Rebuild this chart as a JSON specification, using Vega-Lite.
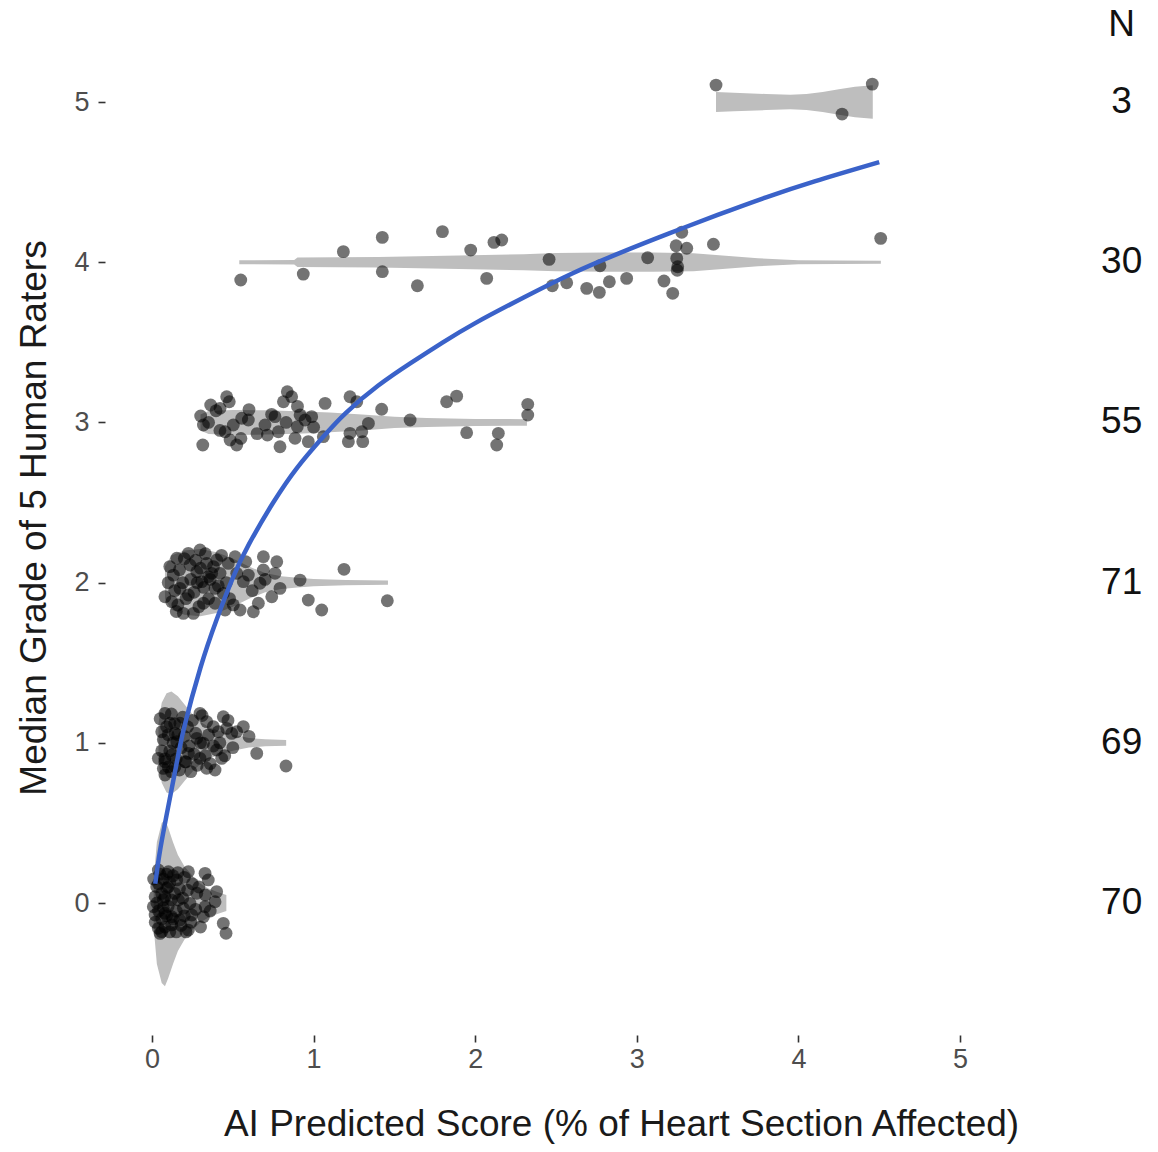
{
  "$schema": "https://vega.github.io/schema/vega-lite/v6.json",
  "width": 1053,
  "height": 1035,
  "autosize": {"type": "none"},
  "padding": {"left": 105, "top": 0, "right": 0, "bottom": 117},
  "background": "white",
  "config": {
    "view": {"stroke": null},
    "font": "Liberation Sans",
    "axis": {
      "domain": false,
      "grid": false,
      "labelFont": "Liberation Sans",
      "labelFontSize": 27,
      "labelColor": "#4d4d4d",
      "tickColor": "#333333",
      "tickSize": 7,
      "tickWidth": 1.6,
      "titleFont": "Liberation Sans",
      "titleFontSize": 37,
      "titleFontWeight": "normal",
      "titleColor": "#1a1a1a"
    },
    "axisX": {"labelPadding": 4, "titlePadding": 34, "titleX": 516},
    "axisY": {"labelPadding": 9, "titlePadding": 20}
  },
  "datasets": {
    "violins": [
      {"g":0,"x":0.01,"lo":-0.15,"hi":0.15},{"g":0,"x":0.03,"lo":-0.38,"hi":0.38},{"g":0,"x":0.06,"lo":-0.5,"hi":0.5},{"g":0,"x":0.08,"lo":-0.52,"hi":0.52},{"g":0,"x":0.1,"lo":-0.47,"hi":0.47},{"g":0,"x":0.13,"lo":-0.38,"hi":0.38},{"g":0,"x":0.16,"lo":-0.3,"hi":0.3},{"g":0,"x":0.2,"lo":-0.23,"hi":0.23},{"g":0,"x":0.25,"lo":-0.17,"hi":0.17},{"g":0,"x":0.3,"lo":-0.12,"hi":0.12},{"g":0,"x":0.35,"lo":-0.09,"hi":0.09},{"g":0,"x":0.4,"lo":-0.07,"hi":0.07},{"g":0,"x":0.46,"lo":-0.05,"hi":0.05},
      {"g":1,"x":0.04,"lo":0.88,"hi":1.12},{"g":1,"x":0.06,"lo":0.75,"hi":1.25},{"g":1,"x":0.09,"lo":0.69,"hi":1.31},{"g":1,"x":0.12,"lo":0.68,"hi":1.32},{"g":1,"x":0.16,"lo":0.71,"hi":1.29},{"g":1,"x":0.2,"lo":0.76,"hi":1.24},{"g":1,"x":0.25,"lo":0.82,"hi":1.18},{"g":1,"x":0.3,"lo":0.87,"hi":1.13},{"g":1,"x":0.35,"lo":0.9,"hi":1.1},{"g":1,"x":0.4,"lo":0.92,"hi":1.08},{"g":1,"x":0.5,"lo":0.95,"hi":1.05},{"g":1,"x":0.6,"lo":0.97,"hi":1.03},{"g":1,"x":0.7,"lo":0.978,"hi":1.022},{"g":1,"x":0.83,"lo":0.982,"hi":1.018},
      {"g":2,"x":0.08,"lo":1.9,"hi":2.1},{"g":2,"x":0.12,"lo":1.83,"hi":2.17},{"g":2,"x":0.2,"lo":1.8,"hi":2.2},{"g":2,"x":0.3,"lo":1.79,"hi":2.21},{"g":2,"x":0.4,"lo":1.81,"hi":2.19},{"g":2,"x":0.5,"lo":1.85,"hi":2.15},{"g":2,"x":0.6,"lo":1.9,"hi":2.1},{"g":2,"x":0.7,"lo":1.94,"hi":2.06},{"g":2,"x":0.8,"lo":1.96,"hi":2.04},{"g":2,"x":0.9,"lo":1.97,"hi":2.03},{"g":2,"x":1.0,"lo":1.978,"hi":2.022},{"g":2,"x":1.2,"lo":1.984,"hi":2.016},{"g":2,"x":1.46,"lo":1.986,"hi":2.014},
      {"g":3,"x":0.3,"lo":2.95,"hi":3.05},{"g":3,"x":0.35,"lo":2.928,"hi":3.072},{"g":3,"x":0.5,"lo":2.922,"hi":3.078},{"g":3,"x":0.7,"lo":2.924,"hi":3.076},{"g":3,"x":0.9,"lo":2.93,"hi":3.07},{"g":3,"x":1.1,"lo":2.938,"hi":3.062},{"g":3,"x":1.3,"lo":2.95,"hi":3.05},{"g":3,"x":1.5,"lo":2.965,"hi":3.035},{"g":3,"x":1.7,"lo":2.972,"hi":3.028},{"g":3,"x":2.0,"lo":2.978,"hi":3.022},{"g":3,"x":2.32,"lo":2.98,"hi":3.02},
      {"g":4,"x":0.54,"lo":3.988,"hi":4.012},{"g":4,"x":0.88,"lo":3.986,"hi":4.014},{"g":4,"x":0.9,"lo":3.97,"hi":4.03},{"g":4,"x":1.4,"lo":3.967,"hi":4.033},{"g":4,"x":1.9,"lo":3.958,"hi":4.042},{"g":4,"x":2.3,"lo":3.95,"hi":4.05},{"g":4,"x":2.5,"lo":3.943,"hi":4.057},{"g":4,"x":2.8,"lo":3.94,"hi":4.06},{"g":4,"x":3.1,"lo":3.94,"hi":4.06},{"g":4,"x":3.35,"lo":3.944,"hi":4.056},{"g":4,"x":3.55,"lo":3.96,"hi":4.04},{"g":4,"x":3.75,"lo":3.975,"hi":4.025},{"g":4,"x":4.0,"lo":3.987,"hi":4.013},{"g":4,"x":4.25,"lo":3.989,"hi":4.011},{"g":4,"x":4.51,"lo":3.99,"hi":4.01},
      {"g":5,"x":3.49,"lo":4.938,"hi":5.062},{"g":5,"x":3.6,"lo":4.942,"hi":5.058},{"g":5,"x":3.8,"lo":4.95,"hi":5.05},{"g":5,"x":3.95,"lo":4.955,"hi":5.045},{"g":5,"x":4.05,"lo":4.95,"hi":5.05},{"g":5,"x":4.15,"lo":4.938,"hi":5.062},{"g":5,"x":4.25,"lo":4.92,"hi":5.08},{"g":5,"x":4.35,"lo":4.905,"hi":5.095},{"g":5,"x":4.46,"lo":4.895,"hi":5.105}
    ],
    "points": [
      {"x":3.49,"y":5.106},{"x":4.27,"y":4.925},{"x":4.457,"y":5.112},
      {"x":0.549,"y":3.889},{"x":0.936,"y":3.926},{"x":1.184,"y":4.066},{"x":1.425,"y":4.155},{"x":1.425,"y":3.941},{"x":1.642,"y":3.853},{"x":1.797,"y":4.191},{"x":1.972,"y":4.076},{"x":2.071,"y":3.899},{"x":2.116,"y":4.124},{"x":2.164,"y":4.139},{"x":2.457,"y":4.018},{"x":2.477,"y":3.853},{"x":2.566,"y":3.872},{"x":2.69,"y":3.837},{"x":2.768,"y":3.812},{"x":2.772,"y":3.978},{"x":2.83,"y":3.878},{"x":2.937,"y":3.899},{"x":3.067,"y":4.028},{"x":3.168,"y":3.883},{"x":3.222,"y":3.806},{"x":3.247,"y":4.024},{"x":3.253,"y":3.972},{"x":3.243,"y":4.103},{"x":3.278,"y":4.187},{"x":3.309,"y":4.087},{"x":3.474,"y":4.112},{"x":4.509,"y":4.149},{"x":3.25,"y":3.95},
      {"x":0.301,"y":3.04},{"x":0.318,"y":2.984},{"x":0.314,"y":2.859},{"x":0.363,"y":3.109},{"x":0.396,"y":3.073},{"x":0.421,"y":3.088},{"x":0.462,"y":3.16},{"x":0.478,"y":3.129},{"x":0.452,"y":2.942},{"x":0.483,"y":2.89},{"x":0.503,"y":2.984},{"x":0.524,"y":2.859},{"x":0.555,"y":3.026},{"x":0.596,"y":3.015},{"x":0.699,"y":2.984},{"x":0.714,"y":2.921},{"x":0.761,"y":3.036},{"x":0.782,"y":2.942},{"x":0.792,"y":2.848},{"x":0.813,"y":3.129},{"x":0.837,"y":3.192},{"x":0.864,"y":3.16},{"x":0.885,"y":2.901},{"x":0.899,"y":2.974},{"x":0.916,"y":3.047},{"x":0.947,"y":3.015},{"x":0.967,"y":2.88},{"x":0.988,"y":3.036},{"x":1.071,"y":3.119},{"x":1.06,"y":2.911},{"x":1.225,"y":3.16},{"x":1.267,"y":3.129},{"x":1.225,"y":2.932},{"x":1.215,"y":2.88},{"x":1.298,"y":2.942},{"x":1.304,"y":2.88},{"x":1.339,"y":2.994},{"x":1.421,"y":3.082},{"x":1.597,"y":3.015},{"x":1.823,"y":3.129},{"x":1.885,"y":3.164},{"x":1.947,"y":2.936},{"x":2.143,"y":2.932},{"x":2.133,"y":2.859},{"x":2.325,"y":3.113},{"x":2.325,"y":3.046},{"x":0.35,"y":3.0},{"x":0.42,"y":2.95},{"x":0.55,"y":2.9},{"x":0.6,"y":3.08},{"x":0.65,"y":2.93},{"x":0.74,"y":3.05},{"x":0.83,"y":3.0},{"x":0.9,"y":3.1},{"x":1.0,"y":2.97},
      {"x":0.08,"y":1.912},{"x":0.122,"y":1.881},{"x":0.132,"y":2.047},{"x":0.153,"y":2.152},{"x":0.173,"y":1.964},{"x":0.194,"y":1.808},{"x":0.225,"y":2.183},{"x":0.235,"y":2.11},{"x":0.225,"y":1.923},{"x":0.256,"y":1.808},{"x":0.277,"y":2.068},{"x":0.297,"y":2.204},{"x":0.308,"y":2.006},{"x":0.318,"y":1.871},{"x":0.338,"y":2.12},{"x":0.349,"y":2.037},{"x":0.369,"y":2.058},{"x":0.39,"y":1.964},{"x":0.39,"y":1.871},{"x":0.4,"y":2.141},{"x":0.421,"y":2.058},{"x":0.441,"y":1.933},{"x":0.452,"y":1.829},{"x":0.472,"y":2.12},{"x":0.514,"y":2.162},{"x":0.524,"y":2.058},{"x":0.503,"y":1.861},{"x":0.545,"y":1.829},{"x":0.565,"y":2.006},{"x":0.596,"y":2.047},{"x":0.627,"y":1.818},{"x":0.658,"y":1.871},{"x":0.668,"y":1.996},{"x":0.689,"y":2.162},{"x":0.689,"y":2.079},{"x":0.741,"y":1.912},{"x":0.761,"y":2.058},{"x":0.772,"y":2.13},{"x":0.792,"y":1.964},{"x":0.916,"y":2.016},{"x":0.967,"y":1.891},{"x":1.05,"y":1.829},{"x":1.188,"y":2.083},{"x":1.456,"y":1.887},
      {"x":0.1,"y":2.0},{"x":0.11,"y":2.1},{"x":0.14,"y":1.95},{"x":0.16,"y":1.86},{"x":0.17,"y":2.08},{"x":0.19,"y":2.0},{"x":0.2,"y":2.15},{"x":0.21,"y":1.9},{"x":0.24,"y":2.02},{"x":0.26,"y":1.94},{"x":0.27,"y":2.14},{"x":0.29,"y":1.85},{"x":0.3,"y":2.09},{"x":0.32,"y":1.97},{"x":0.33,"y":2.18},{"x":0.35,"y":1.9},{"x":0.36,"y":2.02},{"x":0.38,"y":2.1},{"x":0.41,"y":1.98},{"x":0.43,"y":2.17},{"x":0.46,"y":2.0},{"x":0.48,"y":1.9},{"x":0.58,"y":2.13},{"x":0.62,"y":1.95},{"x":0.7,"y":2.02},{"x":0.15,"y":1.82},{"x":0.28,"y":2.0},
      {"x":0.08,"y":1.184},{"x":0.111,"y":1.122},{"x":0.06,"y":1.069},{"x":0.142,"y":1.059},{"x":0.173,"y":1.122},{"x":0.153,"y":1.007},{"x":0.039,"y":0.903},{"x":0.08,"y":0.882},{"x":0.122,"y":0.924},{"x":0.142,"y":0.851},{"x":0.08,"y":0.799},{"x":0.204,"y":0.882},{"x":0.225,"y":0.934},{"x":0.297,"y":1.184},{"x":0.338,"y":1.132},{"x":0.277,"y":1.028},{"x":0.318,"y":0.997},{"x":0.297,"y":0.903},{"x":0.338,"y":0.841},{"x":0.39,"y":0.83},{"x":0.4,"y":0.955},{"x":0.431,"y":0.903},{"x":0.379,"y":1.101},{"x":0.41,"y":1.069},{"x":0.441,"y":1.163},{"x":0.462,"y":1.09},{"x":0.493,"y":1.059},{"x":0.524,"y":1.069},{"x":0.565,"y":1.101},{"x":0.648,"y":0.934},{"x":0.829,"y":0.855},
      {"x":0.05,"y":1.15},{"x":0.06,"y":0.95},{"x":0.07,"y":1.02},{"x":0.08,"y":0.9},{"x":0.09,"y":1.1},{"x":0.1,"y":0.85},{"x":0.1,"y":1.05},{"x":0.11,"y":0.95},{"x":0.12,"y":1.18},{"x":0.12,"y":0.82},{"x":0.13,"y":1.0},{"x":0.14,"y":1.12},{"x":0.15,"y":0.9},{"x":0.16,"y":1.05},{"x":0.17,"y":0.83},{"x":0.18,"y":0.97},{"x":0.19,"y":1.16},{"x":0.2,"y":1.04},{"x":0.21,"y":0.88},{"x":0.22,"y":1.1},{"x":0.23,"y":0.98},{"x":0.24,"y":0.82},{"x":0.25,"y":1.14},{"x":0.26,"y":0.93},{"x":0.27,"y":1.06},{"x":0.28,"y":0.86},{"x":0.3,"y":1.0},{"x":0.31,"y":1.17},{"x":0.33,"y":0.92},{"x":0.35,"y":1.05},{"x":0.36,"y":0.87},{"x":0.38,"y":0.98},{"x":0.42,"y":1.0},{"x":0.45,"y":0.92},{"x":0.47,"y":1.14},{"x":0.5,"y":0.97},{"x":0.6,"y":1.04},{"x":0.07,"y":0.84},
      {"x":0.225,"y":0.195},{"x":0.328,"y":0.185},{"x":0.348,"y":0.144},{"x":0.4,"y":0.071},{"x":0.277,"y":0.061},{"x":0.39,"y":0.008},{"x":0.328,"y":-0.023},{"x":0.318,"y":-0.086},{"x":0.441,"y":-0.127},{"x":0.458,"y":-0.189},{"x":0.246,"y":-0.075},{"x":0.225,"y":-0.169},{"x":0.173,"y":-0.106},{"x":0.122,"y":-0.137},{"x":0.039,"y":-0.158},{"x":0.039,"y":0.206},{"x":0.101,"y":0.195},{"x":0.153,"y":0.144},{"x":0.029,"y":0.102},{"x":0.091,"y":0.092},{"x":0.019,"y":0.039},{"x":0.07,"y":0.019},{"x":0.163,"y":0.019},{"x":0.019,"y":-0.075},{"x":0.08,"y":-0.064},{"x":0.122,"y":-0.086},{"x":0.194,"y":-0.033},{"x":0.235,"y":-0.002},{"x":0.008,"y":-0.023},{"x":0.06,"y":-0.179},
      {"x":0.01,"y":0.15},{"x":0.02,"y":-0.12},{"x":0.03,"y":0.0},{"x":0.04,"y":0.12},{"x":0.04,"y":-0.05},{"x":0.05,"y":0.18},{"x":0.05,"y":-0.19},{"x":0.06,"y":0.06},{"x":0.06,"y":-0.1},{"x":0.07,"y":0.15},{"x":0.07,"y":-0.03},{"x":0.08,"y":0.04},{"x":0.08,"y":-0.15},{"x":0.09,"y":0.18},{"x":0.09,"y":-0.08},{"x":0.1,"y":0.1},{"x":0.1,"y":-0.02},{"x":0.11,"y":-0.18},{"x":0.11,"y":0.13},{"x":0.12,"y":0.02},{"x":0.13,"y":-0.1},{"x":0.13,"y":0.17},{"x":0.14,"y":0.06},{"x":0.15,"y":-0.05},{"x":0.15,"y":-0.18},{"x":0.16,"y":0.19},{"x":0.17,"y":0.09},{"x":0.18,"y":-0.14},{"x":0.19,"y":0.03},{"x":0.2,"y":0.16},{"x":0.2,"y":-0.08},{"x":0.21,"y":-0.18},{"x":0.22,"y":0.08},{"x":0.24,"y":-0.12},{"x":0.25,"y":0.12},{"x":0.27,"y":-0.04},{"x":0.29,"y":0.1},{"x":0.3,"y":-0.15},{"x":0.33,"y":0.05},{"x":0.36,"y":-0.05}
    ],
    "curve": [
      {"x":0.02,"y":0.12},{"x":0.05,"y":0.33},{"x":0.1,"y":0.6},{"x":0.15,"y":0.86},{"x":0.2,"y":1.1},{"x":0.3,"y":1.47},{"x":0.4,"y":1.77},{"x":0.5,"y":2.03},{"x":0.6,"y":2.24},{"x":0.75,"y":2.5},{"x":0.9,"y":2.72},{"x":1.05,"y":2.9},{"x":1.2,"y":3.06},{"x":1.4,"y":3.23},{"x":1.6,"y":3.37},{"x":1.8,"y":3.5},{"x":2.0,"y":3.62},{"x":2.3,"y":3.78},{"x":2.6,"y":3.93},{"x":2.9,"y":4.06},{"x":3.2,"y":4.18},{"x":3.5,"y":4.295},{"x":3.8,"y":4.405},{"x":4.1,"y":4.505},{"x":4.5,"y":4.625}
    ],
    "counts": [
      {"y":5.48,"label":"N"},{"y":5,"label":"3"},{"y":4,"label":"30"},{"y":3,"label":"55"},{"y":2,"label":"71"},{"y":1,"label":"69"},{"y":0,"label":"70"}
    ]
  },
  "layer": [
    {
      "data": {"name": "violins"},
      "mark": {"type": "area", "orient": "vertical", "color": "#bebebe", "opacity": 1},
      "encoding": {
        "x": {"field": "x", "type": "quantitative", "scale": {"domain": [-0.291, 6.225], "nice": false, "zero": false}, "axis": {"values": [0,1,2,3,4,5], "format": "d"}, "title": "AI Predicted Score (% of Heart Section Affected)"},
        "y": {"field": "hi", "type": "quantitative", "scale": {"domain": [-0.824, 5.637], "nice": false, "zero": false}, "axis": {"values": [0,1,2,3,4,5], "format": "d"}, "title": "Median Grade of 5 Human Raters"},
        "y2": {"field": "lo"},
        "detail": {"field": "g", "type": "nominal"}
      }
    },
    {
      "data": {"name": "points"},
      "mark": {"type": "circle", "size": 165, "color": "#000000", "opacity": 0.55},
      "encoding": {
        "x": {"field": "x", "type": "quantitative", "scale": {"domain": [-0.291, 6.225], "nice": false, "zero": false}, "title": "AI Predicted Score (% of Heart Section Affected)"},
        "y": {"field": "y", "type": "quantitative", "scale": {"domain": [-0.824, 5.637], "nice": false, "zero": false}, "title": "Median Grade of 5 Human Raters"}
      }
    },
    {
      "data": {"name": "curve"},
      "mark": {"type": "line", "color": "#3a62c9", "strokeWidth": 4.5, "interpolate": "natural"},
      "encoding": {
        "x": {"field": "x", "type": "quantitative", "scale": {"domain": [-0.291, 6.225], "nice": false, "zero": false}, "title": "AI Predicted Score (% of Heart Section Affected)"},
        "y": {"field": "y", "type": "quantitative", "scale": {"domain": [-0.824, 5.637], "nice": false, "zero": false}, "title": "Median Grade of 5 Human Raters"}
      }
    },
    {
      "data": {"name": "counts"},
      "mark": {"type": "text", "font": "Liberation Sans", "fontSize": 37, "color": "#111111", "align": "center", "baseline": "middle"},
      "encoding": {
        "x": {"datum": 6.0, "type": "quantitative", "scale": {"domain": [-0.291, 6.225], "nice": false, "zero": false}, "title": "AI Predicted Score (% of Heart Section Affected)"},
        "y": {"field": "y", "type": "quantitative", "scale": {"domain": [-0.824, 5.637], "nice": false, "zero": false}, "title": "Median Grade of 5 Human Raters"},
        "text": {"field": "label", "type": "nominal"}
      }
    }
  ]
}
